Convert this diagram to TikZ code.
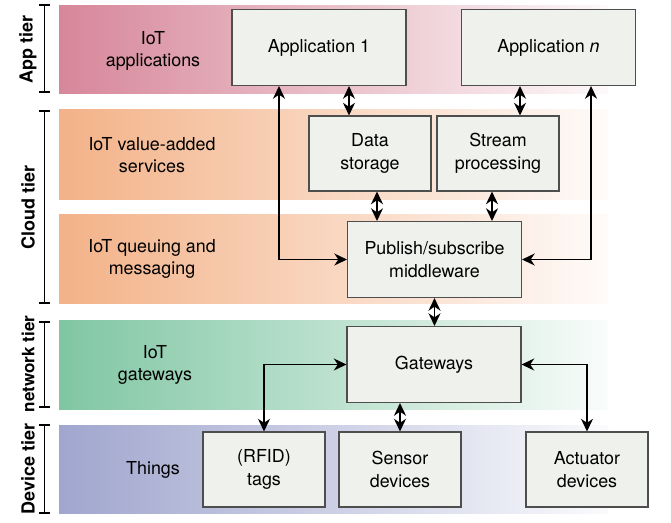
\documentclass[tikz,border=0pt]{standalone}
\usepackage{fontspec}
\setmainfont{TeX Gyre Heros}
\usetikzlibrary{arrows.meta}

\definecolor{appc}{HTML}{D7879A}
\definecolor{cloudc}{HTML}{F3B288}
\definecolor{netc}{HTML}{80C6A3}
\definecolor{devc}{HTML}{A0A6CE}
\definecolor{boxfill}{HTML}{EEF1EC}
\definecolor{boxline}{HTML}{4E4E4E}

\begin{document}
\begin{tikzpicture}[x=0.75pt,y=-0.75pt,
    font=\fontsize{13.4}{17}\selectfont,
    box/.style={draw=boxline, fill=boxfill, line width=0.8pt, align=center, inner sep=0pt},
    wide/.style={box, minimum width=130.5pt, minimum height=57pt},
    small/.style={box, minimum width=91.5pt, minimum height=56.25pt},
    band/.style={left color=#1, right color=#1!5},
    tier/.style={rotate=90, font=\fontsize{13.5}{16}\selectfont\bfseries},
    lbl/.style={align=center},
    link/.style={{Stealth[length=9.5pt,width=9pt,inset=3pt]}-{Stealth[length=9.5pt,width=9pt,inset=3pt]}, line width=1.2pt}]

  \useasboundingbox (0,0) rectangle (671,522);

  % Tier bands
  \fill[band=appc]   (59,5)   rectangle (608,93);
  \fill[band=cloudc] (59,109) rectangle (608,199);
  \fill[band=cloudc] (59,214) rectangle (608,303);
  \fill[band=netc]   (59,320) rectangle (608,409);
  \fill[band=devc]   (59,425) rectangle (608,513);

  % Brackets on the left
  \draw[line width=0.9pt] (39,5) -- (50,5) (44.5,5) -- (44.5,92) (39,92) -- (50,92);
  \draw[line width=0.9pt] (39,111) -- (50,111) (44.5,111) -- (44.5,303) (39,303) -- (50,303);
  \draw[line width=0.9pt] (39,322) -- (50,322) (44.5,322) -- (44.5,407) (39,407) -- (50,407);
  \draw[line width=0.9pt] (39,425) -- (50,425) (44.5,425) -- (44.5,513) (39,513) -- (50,513);

  % Tier names
  \node[tier] (tapp)   at (28,49)  {App tier};
  \node[tier] (tcloud) at (28,207) {Cloud tier};
  \node[tier, font=\fontsize{12.8}{16}\selectfont\bfseries] (tnet) at (28,364) {network tier};
  \node[tier] (tdev)   at (28,469) {Device tier};

  % Band labels
  \node[lbl] (lapp)   at (153,51)  {IoT\\applications};
  \node[lbl] (lvalue) at (152,155) {IoT value-added\\services};
  \node[lbl] (lqueue) at (152,259) {IoT queuing and\\messaging};
  \node[lbl] (lgw)    at (155,365) {IoT\\gateways};
  \node[lbl] (lthing) at (153,470) {Things};

  % Boxes
  \node[wide]  (app1)   at (319,47.5)    {Application 1};
  \node[wide]  (appn)   at (548.5,47.5)  {Application \textit{n}};
  \node[small] (store)  at (370,153.5)   {Data\\storage};
  \node[small] (stream) at (498,153.5)   {Stream\\processing};
  \node[wide]  (pubsub) at (434.5,259.5) {Publish/subscribe\\middleware};
  \node[wide]  (gw)     at (434,364.5)   {Gateways};
  \node[small] (rfid)   at (264,469.5)   {(RFID)\\tags};
  \node[small] (sensor) at (400,469.5)   {Sensor\\devices};
  \node[small] (act)    at (587,469.5)   {Actuator\\devices};

  % Links between app and cloud tier
  \draw[link] ([xshift=-30pt]app1.south) |- (pubsub.west);
  \draw[link] ([xshift=31.9pt]appn.south) |- (pubsub.east);
  \draw[link] ([xshift=-15.75pt]store.north) coordinate (s1) -- (s1 |- app1.south);
  \draw[link] ([xshift=16.5pt]stream.north) coordinate (s2) -- (s2 |- appn.south);
  \draw[link] ([xshift=5.25pt]store.south) coordinate (s3) -- (s3 |- pubsub.north);
  \draw[link] ([xshift=-4.5pt]stream.south) coordinate (s4) -- (s4 |- pubsub.north);

  % Links down to network and devices
  \draw[link] (pubsub.south) -- (pubsub.south |- gw.north);
  \draw[link] (gw.west) -| (rfid.north);
  \draw[link] (sensor.north) -- (sensor.north |- gw.south);
  \draw[link] (gw.east) -| (act.north);

\end{tikzpicture}
\end{document}
